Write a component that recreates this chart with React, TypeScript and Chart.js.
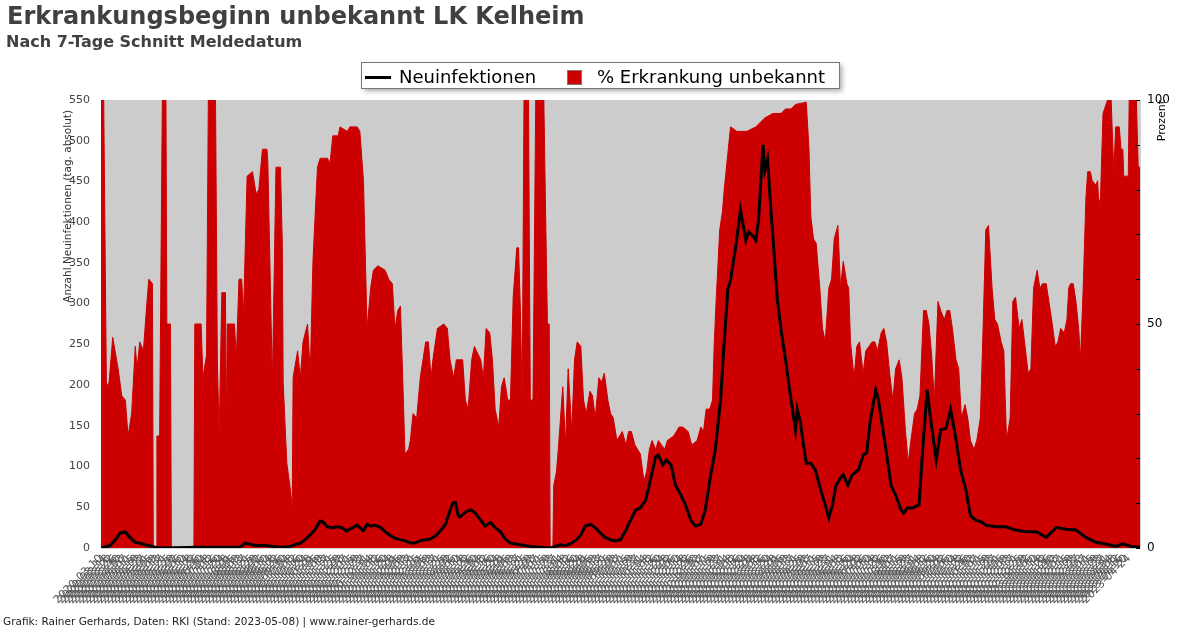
import React, { useEffect, useRef } from "react";
import { Chart, registerables } from "chart.js";
Chart.register(...registerables);

const TITLE = "Erkrankungsbeginn unbekannt LK Kelheim";
const SUBTITLE = "Nach 7-Tage Schnitt Meldedatum";
const FOOTER = "Grafik: Rainer Gerhards, Daten: RKI (Stand: 2023-05-08) | www.rainer-gerhards.de";
const LEGEND_LINE = "Neuinfektionen";
const LEGEND_AREA = "% Erkrankung unbekannt";
const Y_LEFT_TITLE = "Anzahl Neuinfektionen (tag. absolut)";
const Y_RIGHT_TITLE = "Prozent";

// day 0 = 2020-03-10
const START_DATE_UTC = Date.UTC(2020, 2, 10);
const LAST_DAY = 1152;
const LABEL_STEP = 4;
const LAST_LABEL_DAY = 1141;
const LEFT_TICKS = [0, 50, 100, 150, 200, 250, 300, 350, 400, 450, 500, 550];
const RIGHT_TICKS_LABELED = [0, 50, 100];

// Neuinfektionen (7-day average, absolute)
const caseDays = [
  0, 10, 16, 21, 27, 32, 38, 43, 49, 60,
  65, 110, 154, 160, 171, 182, 199, 210, 215, 221,
  226, 232, 237, 243, 246, 251, 256, 262, 267, 272,
  279, 284, 287, 291, 295, 299, 304, 310, 315, 321,
  326, 332, 337, 343, 348, 354, 360, 365, 371, 376,
  382, 385, 390, 393, 396, 398, 404, 410, 415, 421,
  426, 432, 437, 443, 448, 454, 465, 476, 487, 498,
  504, 509, 515, 520, 526, 532, 537, 543, 548, 554,
  559, 565, 570, 576, 582, 587, 593, 598, 604, 609,
  615, 618, 623, 627, 632, 637, 643, 648, 654, 659,
  665, 670, 676, 681, 687, 690, 695, 698, 704, 707,
  709, 715, 718, 722, 726, 729, 734, 736, 739, 742,
  746, 750, 754, 759, 765, 770, 772, 775, 779, 782,
  787, 792, 798, 803, 807, 811, 815, 820, 823, 828,
  833, 840, 845, 849, 853, 859, 862, 867, 872, 876,
  881, 887, 890, 894, 900, 907, 911, 916, 920, 926,
  931, 937, 942, 948, 953, 959, 964, 970, 976, 981,
  992, 1003, 1014, 1025, 1037, 1048, 1059, 1070, 1081, 1092,
  1103, 1114, 1125, 1133, 1142, 1152,
];
const caseValues = [
  0, 3, 10, 18, 20, 13, 7, 6, 4, 1,
  0, 1, 1, 6, 3, 3, 1, 2, 4, 6,
  10, 16, 22, 33, 32, 26, 25, 26, 25, 21,
  25, 28, 25, 21, 29, 27, 28, 25, 20, 15,
  12, 10, 9, 6, 6, 9, 10, 11, 15, 21,
  29, 40, 55, 56, 40, 38, 44, 47, 43, 34,
  27, 31, 25, 20, 11, 6, 4, 2, 1, 0,
  2, 4, 3, 5, 9, 16, 27, 29, 25, 18,
  13, 10, 9, 10, 22, 34, 47, 49, 59, 83,
  112, 114, 102, 108, 102, 77, 65, 53, 34, 27,
  29, 47, 90, 120, 182, 237, 317, 329, 372, 397,
  415, 378, 388, 384, 378, 402, 495, 464, 477, 427,
  366, 304, 268, 231, 182, 145, 170, 157, 126, 104,
  104, 96, 71, 53, 37, 53, 77, 86, 90, 77,
  90, 96, 114, 117, 157, 194, 182, 145, 108, 77,
  65, 47, 43, 49, 49, 53, 120, 194, 157, 108,
  145, 147, 170, 133, 96, 71, 40, 34, 32, 28,
  26, 26, 22, 20, 20, 13, 25, 23, 22, 13,
  7, 5, 2, 5, 2, 1,
];

// % Erkrankung unbekannt
const pctDays = [
  0, 3, 6, 9, 13, 19, 23, 27, 30, 34,
  38, 40, 43, 47, 51, 53, 57, 58, 61, 62,
  65, 68, 72, 73, 77, 78, 103, 104, 111, 113,
  117, 119, 127, 129, 131, 134, 138, 139, 140, 148,
  150, 153, 156, 158, 162, 168, 172, 175, 179, 184,
  185, 190, 194, 199, 201, 202, 206, 210, 212, 213,
  218, 221, 224, 229, 232, 235, 240, 243, 246, 251,
  254, 257, 263, 265, 273, 276, 284, 287, 291, 295,
  299, 302, 307, 315, 319, 323, 326, 329, 332, 335,
  337, 341, 343, 346, 350, 354, 360, 363, 366, 368,
  373, 380, 384, 387, 391, 394, 401, 404, 407, 411,
  414, 421, 424, 427, 431, 434, 437, 441, 444, 447,
  451, 454, 457, 461, 463, 465, 467, 469, 474, 476,
  479, 482, 491, 493, 495, 497, 498, 501, 502, 505,
  507, 512, 515, 518, 522, 525, 528, 532, 535, 538,
  542, 545, 548, 552, 555, 558, 562, 565, 568, 572,
  575, 578, 582, 585, 588, 592, 595, 598, 602, 605,
  608, 611, 615, 618, 625, 628, 635, 641, 645, 651,
  655, 661, 665, 668, 671, 675, 678, 680, 682, 686,
  689, 691, 695, 698, 705, 716, 726, 736, 745, 754,
  759, 765, 770, 782, 785, 787, 790, 793, 797, 800,
  803, 807, 810, 813, 817, 820, 823, 827, 829, 831,
  835, 838, 841, 845, 848, 855, 858, 861, 865, 868,
  871, 875, 878, 881, 885, 888, 892, 895, 898, 902,
  905, 908, 912, 915, 918, 921, 924, 928, 931, 935,
  938, 941, 944, 948, 951, 954, 958, 961, 964, 968,
  971, 975, 978, 981, 984, 988, 991, 994, 998, 1001,
  1004, 1008, 1011, 1014, 1018, 1021, 1024, 1028, 1031, 1034,
  1038, 1041, 1044, 1048, 1051, 1054, 1058, 1061, 1064, 1068,
  1071, 1073, 1075, 1078, 1081, 1084, 1086, 1089, 1092, 1094,
  1097, 1099, 1103, 1105, 1106, 1108, 1111, 1116, 1120, 1122,
  1123, 1125, 1129, 1131, 1133, 1134, 1139, 1140, 1148, 1150,
  1152,
];
const pctValues = [
  100, 100, 36, 37, 47, 40, 34, 33, 25, 30,
  45, 40, 46, 44, 55, 60, 59, 0, 0, 25,
  25, 100, 100, 50, 50, 0, 0, 50, 50, 38,
  43, 100, 100, 42, 25, 57, 57, 25, 50, 50,
  42, 60, 60, 52, 83, 84, 79, 80, 89, 89,
  86, 37, 85, 85, 68, 37, 19, 13, 9, 38,
  44, 38, 46, 50, 39, 64, 85, 87, 87, 87,
  86, 92, 92, 94, 93, 94, 94, 93, 82, 49,
  58, 62, 63, 62, 60, 59, 49, 53, 54, 35,
  21, 22, 24, 30, 29, 38, 46, 46, 38, 42,
  49, 50, 49, 42, 38, 42, 42, 33, 31, 42,
  45, 42, 38, 49, 48, 42, 31, 27, 36, 38,
  33, 33, 56, 67, 67, 53, 33, 100, 100, 33,
  33, 100, 100, 74, 50, 50, 0, 0, 14, 17,
  22, 36, 23, 40, 26, 42, 46, 45, 33, 30,
  35, 34, 29, 38, 37, 39, 33, 30, 29, 24,
  25, 26, 23, 26, 26, 23, 22, 21, 15, 17,
  22, 24, 22, 24, 22, 24, 25, 27, 27, 26,
  23, 24, 27, 26, 31, 31, 33, 46, 55, 71,
  75, 80, 88, 94, 93, 93, 94, 96, 97, 97,
  98, 98, 99, 99.5, 89, 74, 69, 68, 58, 49,
  46, 58, 60, 69, 72, 58, 64, 59, 58, 46,
  38, 45, 46, 39, 44, 46, 46, 44, 48, 49,
  46, 38, 33, 40, 42, 38, 26, 19, 24, 30,
  31, 34, 53, 53, 50, 43, 33, 55, 53, 51,
  53, 53, 49, 42, 40, 29, 32, 29, 24, 22,
  24, 29, 49, 71, 72, 58, 51, 50, 46, 44,
  24, 29, 55, 56, 49, 51, 46, 39, 40, 58,
  62, 58, 59, 59, 55, 51, 45, 46, 49, 48,
  51, 58, 59, 59, 55, 49, 42, 58, 78, 84,
  84, 82, 81, 82, 78, 77, 97, 100, 100, 89,
  84, 94, 94, 89, 89, 83, 83, 100, 100, 85,
  85,
];

const FONT = "'DejaVu Sans', 'Noto Sans', sans-serif";

function dayLabel(day: number): string {
  return new Date(START_DATE_UTC + day * 86400000).toISOString().slice(0, 10);
}

const decorPlugin = {
  id: "decor",
  beforeDraw(chart: any) {
    const { ctx, chartArea: a } = chart;
    ctx.save();
    ctx.fillStyle = "#ffffff";
    ctx.fillRect(0, 0, chart.width, chart.height);
    ctx.fillStyle = "#cccccc";
    ctx.fillRect(a.left, a.top, a.right - a.left, a.bottom - a.top);
    ctx.restore();
  },
  afterDraw(chart: any) {
    const { ctx, chartArea: a } = chart;
    const y1 = chart.scales.y1;
    ctx.save();
    // border right & bottom
    ctx.strokeStyle = "#d0d0d0";
    ctx.lineWidth = 1;
    ctx.beginPath();
    ctx.moveTo(a.right + 0.5, a.top);
    ctx.lineTo(a.right + 0.5, a.bottom + 0.5);
    ctx.lineTo(a.left, a.bottom + 0.5);
    ctx.stroke();
    // right axis inward ticks
    ctx.strokeStyle = "#000";
    for (let v = 0; v <= 100; v += 10) {
      const py = Math.round(y1.getPixelForValue(v)) + 0.5;
      ctx.beginPath();
      ctx.moveTo(a.right - 4, py);
      ctx.lineTo(a.right, py);
      ctx.stroke();
    }
    // titles
    ctx.fillStyle = "#404040";
    ctx.textAlign = "left";
    ctx.textBaseline = "alphabetic";
    ctx.font = `bold 24px ${FONT}`;
    ctx.fillText(TITLE, 7, 24);
    ctx.font = `bold 16px ${FONT}`;
    ctx.fillText(SUBTITLE, 6, 47);
    // footer
    ctx.fillStyle = "#222";
    ctx.font = `10.5px ${FONT}`;
    ctx.fillText(FOOTER, 3, 625);
    // axis titles
    ctx.fillStyle = "#333";
    ctx.font = `10.5px ${FONT}`;
    ctx.save();
    ctx.translate(68, 110);
    ctx.rotate(-Math.PI / 2);
    ctx.textAlign = "right";
    ctx.textBaseline = "middle";
    ctx.fillText(Y_LEFT_TITLE, 0, 0);
    ctx.restore();
    ctx.fillStyle = "#000";
    ctx.font = `11px ${FONT}`;
    ctx.save();
    ctx.translate(1162, 100);
    ctx.rotate(-Math.PI / 2);
    ctx.textAlign = "right";
    ctx.textBaseline = "middle";
    ctx.fillText(Y_RIGHT_TITLE, 0, 0);
    ctx.restore();
    // legend box
    const bx = 361, by = 62, bw = 478, bh = 26;
    ctx.save();
    ctx.shadowColor = "rgba(0,0,0,0.35)";
    ctx.shadowBlur = 5;
    ctx.shadowOffsetX = 3;
    ctx.shadowOffsetY = 3;
    ctx.fillStyle = "#ffffff";
    ctx.fillRect(bx, by, bw, bh);
    ctx.restore();
    ctx.strokeStyle = "#777";
    ctx.lineWidth = 1;
    ctx.strokeRect(bx + 0.5, by + 0.5, bw, bh);
    ctx.strokeStyle = "#000";
    ctx.lineWidth = 3;
    ctx.beginPath();
    ctx.moveTo(365, 77.5);
    ctx.lineTo(391, 77.5);
    ctx.stroke();
    ctx.fillStyle = "#000";
    ctx.font = `18px ${FONT}`;
    ctx.textBaseline = "alphabetic";
    ctx.fillText(LEGEND_LINE, 399, 83);
    ctx.fillStyle = "#cc0000";
    ctx.fillRect(567, 70, 14, 14);
    ctx.strokeStyle = "#777";
    ctx.lineWidth = 1;
    ctx.strokeRect(567.5, 70.5, 14, 14);
    ctx.fillStyle = "#000";
    ctx.fillText(LEGEND_AREA, 597, 83);
    ctx.restore();
  },
};

export default function App() {
  const ref = useRef<HTMLCanvasElement>(null);
  useEffect(() => {
    const canvas = ref.current!;
    const chart = new Chart(canvas, {
      type: "line",
      data: {
        datasets: [
          {
            label: LEGEND_LINE,
            data: caseDays.map((d, i) => ({ x: d, y: caseValues[i] })),
            yAxisID: "y",
            borderColor: "#000000",
            borderWidth: 3,
            pointRadius: 0,
            fill: false,
            tension: 0,
            order: 0,
          },
          {
            label: LEGEND_AREA,
            data: pctDays.map((d, i) => ({ x: d, y: pctValues[i] })),
            yAxisID: "y1",
            borderColor: "#cc0000",
            backgroundColor: "#cc0000",
            borderWidth: 1,
            pointRadius: 0,
            fill: "origin",
            tension: 0,
            order: 1,
          },
        ],
      },
      options: {
        responsive: false,
        animation: false,
        devicePixelRatio: 1,
        layout: { padding: { top: 100, left: 0, right: 0, bottom: 0 } },
        plugins: {
          legend: { display: false },
          title: { display: false },
          tooltip: { enabled: false },
        },
        scales: {
          x: {
            type: "linear",
            min: 0,
            max: LAST_DAY,
            grid: { display: false, drawTicks: false },
            border: { display: false },
            afterBuildTicks: (scale: any) => {
              const t: any[] = [];
              for (let d = 0; d <= LAST_LABEL_DAY; d += LABEL_STEP) t.push({ value: d });
              scale.ticks = t;
            },
            afterFit: (scale: any) => {
              scale.height = 80;
            },
            ticks: {
              autoSkip: false,
              minRotation: 45,
              maxRotation: 45,
              padding: 4,
              color: "#5a5a5a",
              font: { family: FONT, size: 11 },
              callback: (v: any) => dayLabel(Number(v)),
            },
          },
          y: {
            position: "left",
            min: 0,
            max: 550,
            grid: { display: false, drawTicks: false },
            border: { display: false },
            afterBuildTicks: (scale: any) => {
              scale.ticks = LEFT_TICKS.map((v) => ({ value: v }));
            },
            afterFit: (scale: any) => {
              scale.width = 101;
            },
            ticks: {
              padding: 11,
              color: "#444",
              font: { family: FONT, size: 11 },
            },
          },
          y1: {
            position: "right",
            min: 0,
            max: 100,
            grid: { display: false, drawTicks: false },
            border: { display: false },
            afterBuildTicks: (scale: any) => {
              scale.ticks = RIGHT_TICKS_LABELED.map((v) => ({ value: v }));
            },
            afterFit: (scale: any) => {
              scale.width = 60;
            },
            ticks: {
              padding: 7,
              color: "#000",
              font: { family: FONT, size: 12 },
            },
          },
        },
      },
      plugins: [decorPlugin],
    } as any);
    return () => chart.destroy();
  }, []);
  return (
    <div style={{ position: "fixed", left: 0, top: 0, width: 1200, height: 628, background: "#fff" }}>
      <canvas ref={ref} width={1200} height={628} style={{ width: 1200, height: 628, display: "block" }} />
    </div>
  );
}
